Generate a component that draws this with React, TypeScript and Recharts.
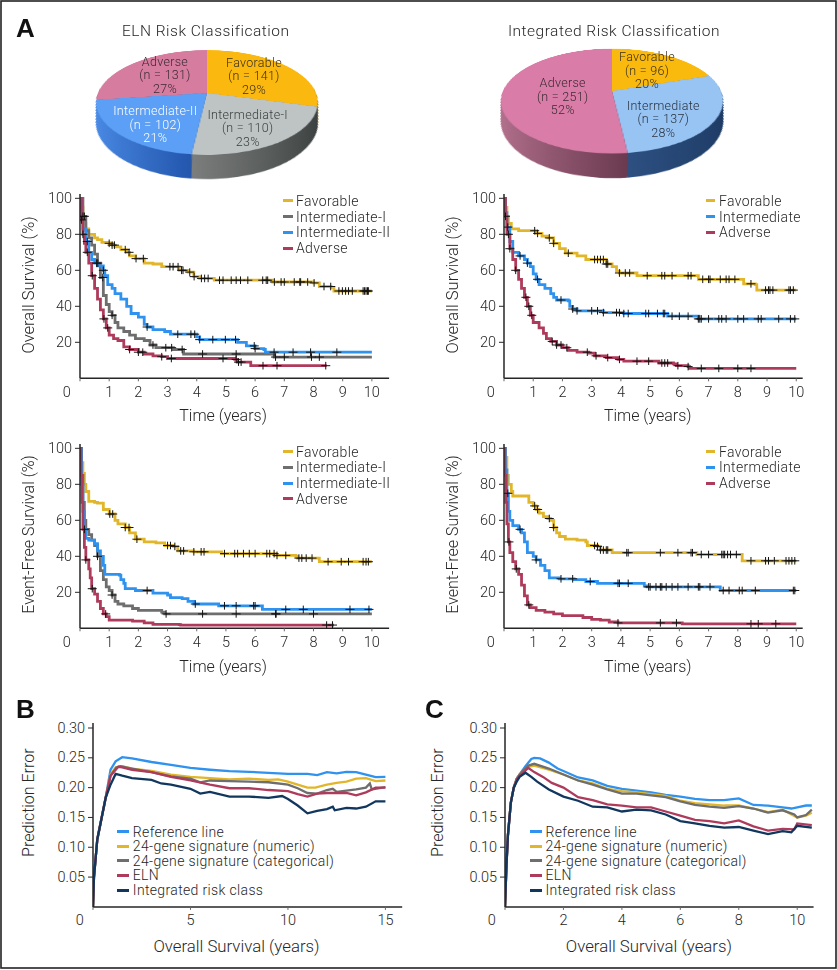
import { ComposedChart, Line, Scatter, XAxis, YAxis, Legend, PieChart, Pie, Cell } from "recharts";

type Pt = [number, number];

const FONT = "Roboto, 'Liberation Sans', sans-serif";
const INK = "#262626";

const FAV = "#E2B62A";
const INT1 = "#6E6E6E";
const INT2 = "#2E92EE";
const ADV = "#AE3B5B";
const NAVY = "#12375F";

// overall survival, ELN classes
const osElnFavorable: Pt[] = [[0,100],[.05,95],[.1,90],[.15,86],[.2,83],[.3,80],[.5,78],[.6,77],[.75,75.5],[1,75],[1.1,74],[1.2,73],[1.4,71.5],[1.6,70],[1.7,68],[1.9,66.5],[2.2,64],[2.5,63.5],[2.8,62],[3.2,62],[3.4,60],[3.7,59],[3.9,56.5],[4.1,55.5],[4.6,54.5],[6.6,53.5],[8,53],[8.2,51],[8.6,50.5],[8.7,48.5],[10,48.5]];
const osElnInt1: Pt[] = [[0,100],[.1,90],[.2,82],[.3,78],[.4,74],[.5,69],[.6,64],[.7,56],[.8,46],[.9,41],[1,37],[1.1,35],[1.2,31],[1.3,28],[1.5,26],[1.7,24],[1.9,22],[2.2,21],[2.4,18.5],[2.6,17],[3,17],[3.2,16],[3.55,13.5],[6.65,11.8],[10,11.8]];
const osElnInt2: Pt[] = [[0,100],[.05,90],[.1,83],[.2,76],[.3,70],[.4,66],[.5,64],[.6,62.5],[.8,60],[.85,57],[.95,52],[1.1,50],[1.2,47],[1.4,44],[1.6,40],[1.75,36],[2,34],[2.2,30],[2.3,28.5],[2.5,27],[2.9,26],[3.1,24.5],[3.8,24.5],[4,23],[4.1,21.5],[5.2,21.5],[5.4,20],[5.7,18],[6,16.5],[6.3,16],[6.35,14.5],[10,14.5]];
const osElnAdverse: Pt[] = [[0,100],[.05,88],[.1,80],[.15,75],[.2,70],[.3,64],[.4,57],[.5,50],[.6,44],[.7,38],[.8,33],[.9,28],[1,24],[1.15,22],[1.3,21],[1.5,17.5],[1.7,16],[2,14.5],[2.2,13.5],[2.5,12.5],[2.8,12],[3,11],[5,11],[5.3,10.5],[5.4,9],[5.8,9],[5.85,7],[8.45,7]];
const osElnFavorableCens = [1,1.1,1.18,1.55,1.68,1.92,2.17,3.08,3.19,3.36,3.48,3.53,3.76,3.91,4.16,4.27,4.39,4.78,4.9,5.18,5.35,5.5,5.75,6.26,6.38,6.43,6.66,6.89,7,7.34,7.53,7.56,7.8,8.02,8.36,8.59,8.87,8.99,9.1,9.2,9.33,9.7,9.75,9.8,9.85,9.88];
const osElnInt1Cens = [.1,.15,.61,.78,1.1,2.5,2.94,3.14,3.5,4.2,5.35,6.7,7,7.93,8.2];
const osElnInt2Cens = [.25,.57,.8,2.3,3.35,3.8,3.93,4.1,4.55,4.98,5.33,5.97,6,6.65,7.3,7.9,8.8];
const osElnAdverseCens = [.05,.1,.25,.42,.82,.95,1.7,2,2.15,2.8,3.13,4.9,5.35,5.43,5.52,6.27,6.75,8.42];

// overall survival, integrated classes
const osIntFavorable: Pt[] = [[0,100],[.05,95],[.1,90],[.15,86],[.25,83],[.5,82],[.9,82],[1.1,80.5],[1.3,79],[1.5,78],[1.7,75],[1.9,72],[2.1,69.5],[2.5,68],[2.8,66],[3.2,66],[3.5,63.5],[3.7,62],[3.85,59.5],[3.95,58.5],[4.5,58.5],[4.55,57],[6.5,57],[6.65,55],[8.15,55],[8.2,52.5],[8.6,52],[8.65,49],[10,49]];
const osIntIntermediate: Pt[] = [[0,100],[.05,92],[.1,84],[.2,76],[.3,70],[.5,68],[.7,66],[.8,64],[.9,62],[1,58],[1.1,55],[1.2,52],[1.4,50],[1.6,47],[1.7,45],[1.8,43.5],[2.2,43],[2.25,40],[2.35,38.5],[2.5,37.5],[3.3,37.5],[3.4,36.5],[4,36.5],[4.1,36],[5.55,36],[5.6,34.5],[6.6,34.5],[6.65,33],[10,33]];
const osIntAdverse: Pt[] = [[0,100],[.05,90],[.1,80],[.2,72],[.3,66],[.4,60],[.5,55],[.6,50],[.7,45],[.8,40],[.9,35],[1,31],[1.2,28],[1.35,25],[1.45,22],[1.6,20.5],[1.8,18.5],[2,17],[2.2,15.5],[2.5,14.5],[2.9,14],[3.1,12.5],[3.5,11.5],[3.9,10.5],[4.1,9.5],[5.2,9.5],[5.3,8.5],[5.8,8],[5.9,7],[6.3,6.5],[6.35,5.5],[10,5.5]];
const osIntFavorableCens = [1.05,1.15,1.55,1.7,2.2,3.1,3.2,3.3,3.4,3.5,3.55,3.95,4.15,4.3,4.9,5.4,5.5,5.75,6.3,6.4,6.8,7,7.05,7.4,7.6,7.7,7.9,8.45,8.95,9.05,9.1,9.2,9.75,9.8,9.9];
const osIntIntermediateCens = [.13,.55,.8,1.15,1.95,2.35,2.5,3,3.2,3.4,3.85,3.95,4.1,4.25,4.85,4.95,5.25,5.45,5.5,5.75,6,6.3,6.65,6.7,6.75,7,7.35,7.45,7.6,8,8.2,8.7,8.8,9.4,9.8,9.95];
const osIntAdverseCens = [.05,.15,.2,.4,.75,.85,.95,1.65,1.8,1.95,2.15,2.85,3.15,3.55,3.95,4.55,4.95,5.4,5.5,5.6,5.95,6.3,6.75,7.35,8,8.45];

// event-free survival, ELN classes
const efsElnFavorable: Pt[] = [[0,100],[.05,92],[.1,86],[.15,80],[.2,76],[.3,70.5],[.5,70],[.6,69.5],[.8,66],[1,63.5],[1.2,60],[1.3,58],[1.55,56],[1.7,53],[1.9,49.5],[2.2,48],[2.6,47.5],[2.9,46],[3.2,45.5],[3.35,43],[3.9,42.5],[4.8,42.5],[4.85,41.5],[6.6,41.5],[6.7,40.5],[7.4,40],[7.45,39],[8.1,39],[8.2,37],[10,37]];
const efsElnInt1: Pt[] = [[0,100],[.05,85],[.1,70],[.15,60],[.2,55],[.3,52],[.4,49],[.5,46],[.6,40],[.7,32],[.8,27],[.9,23],[1,21],[1.1,18.5],[1.2,15],[1.3,13.5],[1.5,12.5],[1.8,11],[2,10],[2.6,10],[2.8,9],[2.9,8],[10,8]];
const efsElnInt2: Pt[] = [[0,100],[.05,80],[.1,65],[.15,55],[.2,50],[.3,49],[.5,47],[.6,43],[.7,40],[.8,35],[.85,30],[1.35,29.5],[1.4,27],[1.5,25],[1.55,22],[1.9,21],[2.3,21],[2.5,19.5],[3,18.5],[3.1,17],[3.5,16.5],[3.7,15],[3.9,13.5],[4.7,13.5],[4.75,12.5],[6.2,12.5],[6.25,10.5],[10,10.5]];
const efsElnAdverse: Pt[] = [[0,100],[.03,85],[.07,70],[.1,55],[.15,45],[.2,38],[.3,33],[.35,28],[.4,22],[.5,19],[.6,15],[.7,11],[.8,8],[.9,6.5],[1,4.5],[1.8,4],[2.2,3],[2.5,2.2],[3.4,2],[3.45,1.8],[8.7,1.8]];
const efsElnFavorableCens = [1.02,1.12,1.55,1.68,1.95,3,3.1,3.25,3.45,3.55,3.9,4.15,4.25,4.95,5.3,5.4,5.6,5.8,6,6.4,6.5,6.65,6.75,7.05,7.5,7.6,7.75,7.95,8.5,8.95,9.2,9.7,9.8,9.88];
const efsElnInt1Cens = [.6,1.1,2.95,4.2,5.35,6.7,6.72,8];
const efsElnInt2Cens = [.15,2.3,3.95,4.95,5.35,5.95,6,7.05,7.65,9.25,9.9];
const efsElnAdverseCens = [.2,.42,.88,8.45,8.65];

// event-free survival, integrated classes
const efsIntFavorable: Pt[] = [[0,100],[.05,95],[.1,85],[.15,80],[.25,76],[.3,73.5],[.8,73.5],[.85,70],[1,68],[1.1,66],[1.2,64],[1.35,62],[1.5,61],[1.6,60],[1.7,56],[1.8,53],[1.9,51],[2.1,49.5],[2.5,49],[2.8,48],[2.85,46],[3.2,45.5],[3.3,43.5],[3.6,43.5],[3.7,42],[6.5,42],[6.6,41],[8.1,41],[8.15,37.5],[10,37.5]];
const efsIntIntermediate: Pt[] = [[0,100],[.05,88],[.1,75],[.15,65],[.2,60],[.3,57],[.5,55],[.6,53],[.7,48],[.8,42],[1,40],[1.1,38],[1.25,35],[1.4,32],[1.55,28],[1.9,27.5],[2.4,27],[2.8,26],[3.2,25],[4.7,25],[4.8,23.5],[4.9,23],[7.35,23],[7.4,21],[10,21]];
const efsIntAdverse: Pt[] = [[0,100],[.03,85],[.06,70],[.1,58],[.15,48],[.2,42],[.3,37],[.4,33],[.5,30],[.6,24],[.7,18],[.8,13],[.9,11.5],[1.1,10],[1.4,9],[1.7,8],[2,7],[2.4,7],[2.7,6],[3,5],[3.3,4.5],[3.6,3.5],[3.9,3],[6,3],[6.1,2.5],[10,2.5]];
const efsIntFavorableCens = [1.05,1.15,1.55,1.7,3.1,3.2,3.3,3.4,3.5,3.55,4.2,4.25,5.35,5.95,6.4,6.45,6.75,7,7.45,7.5,7.55,7.65,7.75,7.95,8.45,8.95,9.05,9.25,9.65,9.75,9.85,9.95];
const efsIntIntermediateCens = [.13,.55,1.1,1.95,2.35,2.95,3.9,3.95,4.25,4.95,5,5.2,5.35,5.4,5.55,5.75,5.95,6.3,6.65,6.7,7.05,7.5,7.7,8.05,8.15,8.6,9.9,9.95];
const efsIntAdverseCens = [.17,.42,.85,3.9,5.35,5.9,8.45,8.7,9.3];

// prediction error, panel B
const bReference: Pt[] = [[0,0],[.05,.05],[.22,.113],[.65,.183],[.9,.23],[1.16,.244],[1.5,.251],[2,.249],[3,.243],[4,.238],[5,.233],[6,.23],[7,.2277],[8,.2265],[9,.2248],[10,.223],[11,.223],[11.5,.221],[12,.226],[12.5,.224],[13,.2265],[13.5,.226],[14,.222],[14.5,.2175],[15,.218]];
const bNumeric: Pt[] = [[0,0],[.05,.05],[.22,.113],[.65,.183],[.9,.222],[1.16,.234],[1.5,.236],[2,.232],[3,.228],[4,.222],[5,.218],[6,.216],[7,.214],[8,.215],[9,.213],[9.5,.214],[10,.21],[10.5,.205],[11,.2],[11.4,.2],[12,.205],[12.5,.208],[13,.21],[13.5,.215],[14,.216],[14.5,.211],[15,.212]];
const bCategorical: Pt[] = [[0,0],[.05,.05],[.22,.113],[.65,.183],[.9,.22],[1.2,.234],[1.4,.236],[2,.232],[3,.226],[4,.219],[5,.215],[5.5,.209],[6,.212],[7,.211],[8,.21],[9,.209],[10,.205],[10.5,.199],[11,.191],[11.5,.19],[12,.196],[12.3,.198],[12.5,.193],[13,.195],[13.5,.197],[14,.2],[14.2,.207],[14.3,.197],[15,.201]];
const bEln: Pt[] = [[0,0],[.05,.05],[.22,.113],[.65,.183],[.9,.22],[1.3,.235],[1.5,.234],[2,.23],[3,.226],[4,.218],[5,.212],[6,.205],[7,.199],[8,.199],[9,.196],[10,.194],[10.5,.189],[11,.185],[11.5,.19],[12,.191],[13,.191],[13.5,.187],[14,.192],[14.5,.2],[15,.2]];
const bIntegrated: Pt[] = [[0,0],[.05,.05],[.22,.113],[.65,.183],[.9,.205],[1.16,.223],[1.5,.22],[2,.216],[3,.213],[3.5,.207],[4,.205],[5,.198],[5.5,.19],[6,.193],[7,.185],[8,.185],[9,.183],[9.7,.186],[10,.181],[10.5,.17],[11,.157],[11.5,.161],[12,.164],[12.3,.168],[12.4,.162],[13,.166],[13.5,.165],[14,.168],[14.5,.177],[15,.177]];

// prediction error, panel C
const cReference: Pt[] = [[0,0],[.05,.07],[.1,.12],[.2,.175],[.3,.2],[.4,.215],[.5,.222],[.7,.236],[.9,.248],[1,.25],[1.2,.249],[1.5,.242],[1.8,.232],[2,.228],[2.5,.217],[3,.212],[3.5,.203],[4,.198],[4.5,.195],[5,.192],[5.5,.188],[6,.185],[6.5,.181],[7,.179],[7.5,.179],[8,.182],[8.5,.171],[9,.17],[9.5,.167],[9.8,.165],[10,.167],[10.3,.17],[10.5,.17]];
const cNumeric: Pt[] = [[0,0],[.05,.07],[.1,.12],[.2,.175],[.3,.2],[.4,.215],[.5,.222],[.8,.235],[1,.237],[1.5,.23],[2,.222],[2.5,.212],[3,.207],[3.5,.198],[4,.194],[4.5,.192],[5,.189],[5.5,.186],[6,.178],[6.5,.174],[7,.172],[7.5,.17],[8,.17],[8.5,.165],[9,.159],[9.5,.163],[10,.15],[10.3,.153],[10.5,.158]];
const cCategorical: Pt[] = [[0,0],[.05,.07],[.1,.12],[.2,.175],[.3,.2],[.4,.215],[.5,.222],[.8,.237],[1,.24],[1.5,.232],[2,.222],[2.5,.212],[3,.205],[3.5,.197],[4,.19],[4.5,.19],[5,.187],[5.5,.184],[6,.177],[6.5,.171],[7,.168],[7.5,.166],[8,.169],[8.5,.165],[9,.158],[9.5,.162],[9.9,.155],[10,.15],[10.3,.154],[10.5,.163]];
const cEln: Pt[] = [[0,0],[.05,.07],[.1,.12],[.2,.175],[.3,.2],[.4,.213],[.5,.22],[.8,.233],[1,.226],[1.3,.218],[1.6,.208],[2,.2],[2.5,.184],[3,.179],[3.5,.172],[4,.17],[4.5,.167],[5,.167],[5.5,.16],[6,.153],[6.5,.146],[7,.144],[7.5,.14],[8,.145],[8.5,.135],[9,.128],[9.5,.131],[9.9,.13],[10,.14],[10.5,.137]];
const cIntegrated: Pt[] = [[0,0],[.05,.07],[.1,.12],[.2,.175],[.3,.2],[.4,.21],[.5,.218],[.7,.225],[.9,.218],[1.1,.21],[1.5,.197],[2,.185],[2.5,.178],[3,.168],[3.5,.167],[4,.16],[4.5,.163],[5,.162],[5.5,.155],[6,.144],[6.5,.14],[7,.136],[7.5,.133],[8,.134],[8.5,.128],[9,.122],[9.5,.127],[9.8,.125],[10,.136],[10.5,.133]];

const kmTicksX = [0,1,2,3,4,5,6,7,8,9,10];
const kmTicksY = [20,40,60,80,100];
const errTicksY = [.05,.1,.15,.2,.25,.3];

const elnClasses = ["Favorable","Intermediate-I","Intermediate-II","Adverse"];
const elnCounts = [141,110,102,131];
const elnPct = [29,23,21,27];
const intClasses = ["Favorable","Intermediate","Adverse"];
const intCounts = [96,137,251];
const intPct = [20,28,52];
const errNames = ["Reference line","24-gene signature (numeric)","24-gene signature (categorical)","ELN","Integrated risk class"];

const stepAt = (curve: Pt[], t: number) => {
  let v = curve[0][1];
  for (const [x, y] of curve) if (x <= t) v = y;
  return v;
};

const Plus = (p: any) => (
  <path d={`M${p.cx - 4.5} ${p.cy}H${p.cx + 4.5}M${p.cx} ${p.cy - 3.8}V${p.cy + 3.8}`} stroke="#111" strokeWidth={1} fill="none" />
);

interface SeriesDef { name: string; color: string; curve: Pt[]; cens?: number[] }
interface PanelProps {
  x0: number; xEnd: number; xMax: number; y0: number; yTop: number; yMax: number;
  ticksX: number[]; ticksY: number[]; fmtY?: (v: number) => string;
  xTitle: string; yTitle: string; xTitleAt: number[]; yTitleAt: number[]; xTitleSize: number; yTitleSize: number;
  series: SeriesDef[]; legendAt: number[]; legendText: number; legendStep: number; lineW: number; keyW: number;
}

function Panel(p: PanelProps) {
  const padL = 90, padT = 6, padR = 6, padB = 55;
  const boxLeft = p.x0 - padL, boxTop = p.yTop - padT;
  const w = p.xEnd - p.x0 + padL + padR, h = p.y0 - p.yTop + padT + padB;
  const txt = { fontFamily: FONT, fill: INK };
  return (
    <div style={{ position: "absolute", left: boxLeft, top: boxTop, width: w, height: h }}>
      <ComposedChart width={w} height={h} margin={{ top: padT, right: padR, left: 0, bottom: 0 }}>
        <XAxis
          type="number" dataKey="x" domain={[0, p.xMax]} ticks={p.ticksX} interval={0} allowDataOverflow
          height={padB} tickSize={3} tickMargin={2} tickLine={{ stroke: "#666", strokeWidth: 1 }}
          axisLine={{ stroke: INK, strokeWidth: 1.5 }}
          tick={(t: any) => (
            <text x={t.payload.value === 0 ? t.x - 13.3 : t.x} y={t.y + 9} textAnchor="middle" dominantBaseline="central" fontSize={14.5} fontWeight={300} {...txt}>
              {t.payload.value}
            </text>
          )}
          label={() => (
            <text x={p.xTitleAt[0] - boxLeft} y={p.xTitleAt[1] - boxTop} textAnchor="middle" dominantBaseline="central" fontSize={p.xTitleSize} fontWeight={300} {...txt}>
              {p.xTitle}
            </text>
          )}
        />
        <YAxis
          type="number" dataKey="y" domain={[0, p.yMax]} ticks={p.ticksY} interval={0} allowDataOverflow
          width={padL} tickSize={5} tickMargin={3}
          axisLine={{ stroke: INK, strokeWidth: 1.5 }} tickLine={{ stroke: INK, strokeWidth: 1 }}
          tick={(t: any) => (
            <text x={t.x} y={t.y} textAnchor="end" dominantBaseline="central" fontSize={14.5} fontWeight={300} {...txt}>
              {p.fmtY ? p.fmtY(t.payload.value) : t.payload.value}
            </text>
          )}
          label={() => {
            const lx = p.yTitleAt[0] - boxLeft, ly = p.yTitleAt[1] - boxTop;
            return (
              <text x={lx} y={ly} transform={`rotate(-90 ${lx} ${ly})`} textAnchor="middle" dominantBaseline="central" fontSize={p.yTitleSize} fontWeight={300} {...txt}>
                {p.yTitle}
              </text>
            );
          }}
        />
        {p.series.map((s) => (
          <Line
            key={s.name} name={s.name} type={s.cens ? "stepAfter" : "linear"}
            data={s.curve.map(([x, y]) => ({ x, y }))} dataKey="y"
            stroke={s.color} strokeWidth={p.lineW} dot={false} activeDot={false} isAnimationActive={false}
          />
        ))}
        {p.series.filter((s) => s.cens).map((s) => (
          <Scatter
            key={s.name + "-cens"} name={s.name + " censored"} legendType="none"
            data={s.cens!.map((x) => ({ x, y: stepAt(s.curve, x) }))}
            shape={Plus} isAnimationActive={false}
          />
        ))}
        <Legend
          layout="vertical" align="center" verticalAlign="middle" itemSorter={null}
          wrapperStyle={{ left: p.legendAt[0] - boxLeft, top: p.legendAt[1] - boxTop, bottom: "auto", width: 260, height: "auto" }}
          content={(lp: any) => (
            <div>
              {(lp.payload || []).filter((e: any) => e.type !== "none").map((e: any) => (
                <div key={e.value} style={{ display: "flex", alignItems: "center", height: p.legendStep, fontFamily: FONT, fontSize: p.legendText, fontWeight: 300, color: INK, letterSpacing: 0.35, whiteSpace: "nowrap" }}>
                  <span style={{ display: "inline-block", width: p.keyW, height: 3, background: e.color, marginRight: 3.5 }} />
                  {e.value}
                </div>
              ))}
            </div>
          )}
        />
      </ComposedChart>
    </div>
  );
}

const pieDepths = Array.from({ length: 40 }, (_, i) => 40 - i);

function Pie3D(p: { apex: number[]; persp: number; tilt: number; names: string[]; counts: number[]; tops: string[]; walls: string[][]; prefix: string }) {
  const R = 109, W = 240, H = 300, cx = 120, cy = 119;
  const table = p.names.map((name, i) => ({ name, value: p.counts[i] }));
  const shrink = Math.sin((p.tilt * Math.PI) / 180) / p.persp;
  return (
    <div style={{ position: "absolute", left: p.apex[0] - cx, top: p.apex[1] - cy, width: W, height: H, transformOrigin: `${cx}px ${cy}px`, transform: `perspective(${p.persp}px) rotateX(${p.tilt}deg)` }}>
      <PieChart width={W} height={H} margin={{ top: 0, right: 0, bottom: 0, left: 0 }}>
        <defs>
          {p.walls.map((g, i) => (
            <linearGradient key={i} id={`${p.prefix}${i}`} x1="0" x2="1" y1="0" y2="0">
              <stop offset="0" stopColor={g[0]} />
              <stop offset="1" stopColor={g[1]} />
            </linearGradient>
          ))}
        </defs>
        {pieDepths.map((d) => (
          <Pie key={d} data={table} dataKey="value" cx={cx} cy={cy + d} outerRadius={R * (1 - d * shrink)} startAngle={90} endAngle={-270} stroke="none" isAnimationActive={false}>
            {table.map((_, i) => <Cell key={i} fill={`url(#${p.prefix}${i})`} />)}
          </Pie>
        ))}
        <Pie data={table} dataKey="value" cx={cx} cy={cy} outerRadius={R} startAngle={90} endAngle={-270} stroke="none" isAnimationActive={false}>
          {table.map((_, i) => <Cell key={i} fill={p.tops[i]} />)}
        </Pie>
      </PieChart>
    </div>
  );
}

const sliceLabels = (names: string[], counts: number[], pct: number[], spots: number[][], colors: string[]) =>
  names.map((name, i) => (
    <g key={name + i} fill={colors[i]} textAnchor="middle" fontSize={12.5} fontWeight={300} fontFamily={FONT} letterSpacing={0.3}>
      <text x={spots[i][0]} y={spots[i][1]} dominantBaseline="central">{name}</text>
      <text x={spots[i][0]} y={spots[i][1] + 13.5} dominantBaseline="central">{`(n = ${counts[i]})`}</text>
      <text x={spots[i][0]} y={spots[i][1] + 27} dominantBaseline="central">{`${pct[i]}%`}</text>
    </g>
  ));

const km = (names: string[], colors: string[], curves: Pt[][], cens: number[][]): SeriesDef[] =>
  names.map((name, i) => ({ name, color: colors[i], curve: curves[i], cens: cens[i] }));
const err = (curves: Pt[][]): SeriesDef[] =>
  errNames.map((name, i) => ({ name, color: [INT2, FAV, INT1, ADV, NAVY][i], curve: curves[i] }));

const fmt2 = (v: number) => v.toFixed(2);
const kmCommon = { xMax: 10.59, yMax: 102.4, ticksX: kmTicksX, ticksY: kmTicksY, xTitle: "Time (years)", xTitleSize: 16, legendText: 14, legendStep: 15.75, lineW: 2.8, keyW: 9.5 };
const errCommon = { yTop: 723.3, y0: 907.2, yMax: .3084, ticksY: errTicksY, fmtY: fmt2, xTitle: "Overall Survival (years)", yTitle: "Prediction Error", xTitleSize: 16.8, yTitleSize: 16, legendText: 14, legendStep: 14.6, lineW: 2.3, keyW: 12 };

export default function App() {
  return (
    <div style={{ position: "absolute", left: 0, top: 0, width: 837, height: 970, background: "#fff", overflow: "hidden" }}>
      <Pie3D apex={[206.7, 93.3]} persp={534} tilt={62.3} prefix="we" names={elnClasses} counts={elnCounts}
        tops={["#FBB80F", "#BDC4C3", "#5B9FF6", "#D67C9F"]}
        walls={[["#B88A10", "#8A6A10"], ["#7C7E7D", "#3B4140"], ["#4B8CE6", "#1E4FA6"], ["#A0607C", "#70405A"]]} />
      <Pie3D apex={[611.7, 90.7]} persp={504} tilt={62.4} prefix="wi" names={intClasses} counts={intCounts}
        tops={["#FAB90D", "#97C4F3", "#D97CA8"]}
        walls={[["#B88A10", "#8A6A10"], ["#2F5386", "#1D3A63"], ["#B5728F", "#6A3A50"]]} />

      <Panel {...kmCommon} x0={79.9} xEnd={389} y0={378.3} yTop={194} yTitle="Overall Survival (%)" yTitleSize={16.6}
        xTitleAt={[223, 416]} yTitleAt={[28.3, 285]} legendAt={[283, 193]}
        series={km(elnClasses, [FAV, INT1, INT2, ADV], [osElnFavorable, osElnInt1, osElnInt2, osElnAdverse], [osElnFavorableCens, osElnInt1Cens, osElnInt2Cens, osElnAdverseCens])} />
      <Panel {...kmCommon} x0={504.3} xEnd={803} xMax={10.22} y0={378.3} yTop={194} yTitle="Overall Survival (%)" yTitleSize={16.6}
        xTitleAt={[648, 416]} yTitleAt={[453, 285]} legendAt={[706, 193]}
        series={km(intClasses, [FAV, INT2, ADV], [osIntFavorable, osIntIntermediate, osIntAdverse], [osIntFavorableCens, osIntIntermediateCens, osIntAdverseCens])} />
      <Panel {...kmCommon} x0={79.9} xEnd={389} y0={627.8} yTop={443.5} yTitle="Event-Free Survival (%)" yTitleSize={16}
        xTitleAt={[223, 666]} yTitleAt={[28.3, 534]} legendAt={[283, 443.8]}
        series={km(elnClasses, [FAV, INT1, INT2, ADV], [efsElnFavorable, efsElnInt1, efsElnInt2, efsElnAdverse], [efsElnFavorableCens, efsElnInt1Cens, efsElnInt2Cens, efsElnAdverseCens])} />
      <Panel {...kmCommon} x0={504.3} xEnd={803} xMax={10.22} y0={627.8} yTop={443.5} yTitle="Event-Free Survival (%)" yTitleSize={16}
        xTitleAt={[648, 666]} yTitleAt={[453, 534]} legendAt={[706, 443.8]}
        series={km(intClasses, [FAV, INT2, ADV], [efsIntFavorable, efsIntIntermediate, efsIntAdverse], [efsIntFavorableCens, efsIntIntermediateCens, efsIntAdverseCens])} />

      <Panel {...errCommon} x0={92.5} xEnd={401.7} xMax={15.86} ticksX={[0, 5, 10, 15]}
        xTitleAt={[236, 946.7]} yTitleAt={[28.3, 803]} legendAt={[117.3, 824.4]}
        series={err([bReference, bNumeric, bCategorical, bEln, bIntegrated])} />
      <Panel {...errCommon} x0={505.4} xEnd={814} xMax={10.56} ticksX={[0, 2, 4, 6, 8, 10]}
        xTitleAt={[649.3, 946.7]} yTitleAt={[437.7, 803]} legendAt={[530, 824.4]}
        series={err([cReference, cNumeric, cCategorical, cEln, cIntegrated])} />

      <svg width={837} height={970} style={{ position: "absolute", left: 0, top: 0, pointerEvents: "none" }}>
        <text x={16} y={37} fontFamily="'Liberation Sans', sans-serif" fontWeight={700} fontSize={26} fill="#111">A</text>
        <text x={16} y={718} fontFamily="'Liberation Sans', sans-serif" fontWeight={700} fontSize={26} fill="#111">B</text>
        <text x={425} y={718} fontFamily="'Liberation Sans', sans-serif" fontWeight={700} fontSize={26} fill="#111">C</text>
        <text x={205.7} y={30.7} textAnchor="middle" dominantBaseline="central" fontFamily={FONT} fontWeight={300} fontSize={15.5} letterSpacing={0.5} fill={INK}>ELN Risk Classification</text>
        <text x={614} y={30.7} textAnchor="middle" dominantBaseline="central" fontFamily={FONT} fontWeight={300} fontSize={15.5} letterSpacing={0.5} fill={INK}>Integrated Risk Classification</text>
        {sliceLabels(elnClasses, elnCounts, elnPct, [[254, 62], [247.7, 114.3], [155.3, 110.7], [165, 61]], ["#3a3020", "#3a3f3f", "#fff", "#3a2a30"])}
        {sliceLabels(intClasses, intCounts, intPct, [[647, 56.7], [663.3, 105], [562.7, 82.7]], ["#3a3020", "#2a3340", "#3a2a30"])}
        <rect x={1} y={1} width={835} height={967} fill="none" stroke="#222" strokeWidth={1.6} />
      </svg>
    </div>
  );
}
